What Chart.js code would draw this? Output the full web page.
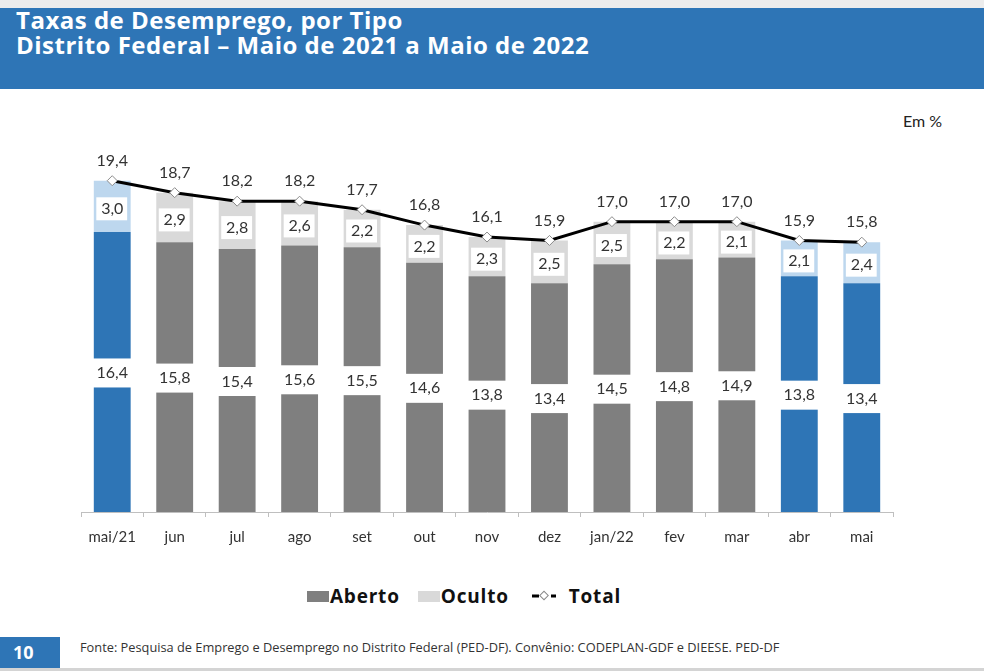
<!DOCTYPE html>
<html>
<head>
<meta charset="utf-8">
<script src="https://cdn.jsdelivr.net/npm/chart.js@4.4.0/dist/chart.umd.min.js"></script>
<style>
  html, body { margin: 0; padding: 0; background: #fff; }
  body { width: 984px; height: 671px; position: relative; overflow: hidden; font-family: Lato, "Open Sans", sans-serif; }
  #topstrip { position: absolute; left: 0; top: 0; width: 984px; height: 8px; background: #ececec; }
  #banner { position: absolute; left: 0; top: 8px; width: 984px; height: 81px; background: #2e75b6; }
  #banner div { position: absolute; left: 16px; color: #fff; font-family: "Open Sans", sans-serif; font-weight: bold; font-size: 24px; letter-spacing: 0.5px; line-height: 25px; white-space: nowrap; }
  #unit { position: absolute; left: 903px; top: 111px; font-size: 16px; color: #222; }
  #wrap { position: absolute; left: 0; top: 90px; width: 984px; height: 480px; }
  #legend { position: absolute; top: 583px; left: 0; width: 928px; display: flex; justify-content: center; align-items: center; font-family: "Open Sans", sans-serif; font-weight: bold; font-size: 19px; letter-spacing: 0.8px; color: #111; }
  #legend .sw { display: inline-block; width: 22px; height: 11px; margin-right: 1px; }
  #legend .item { display: flex; align-items: center; }
  #pagenum { position: absolute; left: 0; top: 637px; width: 47px; height: 31px; padding-left: 13px; background: #2e75b6; color: #fff; font-family: "Open Sans", sans-serif; font-weight: bold; font-size: 18px; line-height: 30px; }
  #source { position: absolute; left: 80px; top: 638px; font-family: "Open Sans", sans-serif; font-size: 12.8px; color: #333; white-space: nowrap; }
  #bottomstrip { position: absolute; left: 0; top: 668px; width: 984px; height: 3px; background: #d4d4d4; }
</style>
</head>
<body>
<div id="topstrip"></div>
<div id="banner">
  <div style="top:-1px">Taxas de Desemprego, por Tipo</div>
  <div style="top:24px">Distrito Federal – Maio de 2021 a Maio de 2022</div>
</div>
<div id="unit">Em %</div>
<div id="wrap"><canvas id="chart"></canvas></div>
<div id="legend">
  <span class="item" style="margin-right:18px"><span class="sw" style="background:#7f7f7f"></span>Aberto</span>
  <span class="item" style="margin-right:22px"><span class="sw" style="background:#d9d9d9"></span>Oculto</span>
  <span class="item"><svg width="26" height="14" style="margin-right:12px"><line x1="1" y1="7" x2="25" y2="7" stroke="#000" stroke-width="3" stroke-dasharray="7,12"/><rect x="10" y="3.5" width="6" height="6" fill="#fff" stroke="#888" stroke-width="1" transform="rotate(45 13 6.5)"/></svg>Total</span>
</div>
<div id="pagenum">10</div>
<div id="source">Fonte: Pesquisa de Emprego e Desemprego no Distrito Federal (PED-DF). Convênio: CODEPLAN-GDF e DIEESE. PED-DF</div>
<div id="bottomstrip"></div>

<script>
const months = ['mai/21', 'jun', 'jul', 'ago', 'set', 'out', 'nov', 'dez', 'jan/22', 'fev', 'mar', 'abr', 'mai'];
const aberto = [16.4, 15.8, 15.4, 15.6, 15.5, 14.6, 13.8, 13.4, 14.5, 14.8, 14.9, 13.8, 13.4];
const oculto = [3.0, 2.9, 2.8, 2.6, 2.2, 2.2, 2.3, 2.5, 2.5, 2.2, 2.1, 2.1, 2.4];
const total = [19.4, 18.7, 18.2, 18.2, 17.7, 16.8, 16.1, 15.9, 17.0, 17.0, 17.0, 15.9, 15.8];
// months shown in blue
const highlight = ['mai/21', 'abr', 'mai'];

const fmt = v => v.toFixed(1).replace('.', ',');
const isHi = i => highlight.includes(months[i]);

const valueLabels = {
    id: 'valueLabels',
    afterDatasetsDraw(chart) {
        const ctx = chart.ctx;
        const ab = chart.getDatasetMeta(0);
        const oc = chart.getDatasetMeta(1);
        const tot = chart.getDatasetMeta(2);
        ctx.save();
        ctx.font = '16px Lato';
        ctx.textAlign = 'center';
        ctx.textBaseline = 'middle';

        ab.data.forEach((bar, i) => {
            const cy = (bar.y + bar.base) / 2 + 1;
            ctx.fillStyle = '#fff';
            ctx.fillRect(bar.x - bar.width / 2 - 1, cy - 14.5, bar.width + 2, 29);
            ctx.fillStyle = '#333';
            ctx.fillText(fmt(aberto[i]), bar.x, cy);
        });

        oc.data.forEach((bar, i) => {
            const cy = (bar.y + bar.base) / 2 + 2.5;
            ctx.fillStyle = '#fff';
            ctx.fillRect(bar.x - bar.width / 2 + 2.5, cy - 11.5, bar.width - 6, 23);
            ctx.fillStyle = '#333';
            ctx.fillText(fmt(oculto[i]), bar.x, cy);
        });

        tot.data.forEach((pt, i) => {
            ctx.fillStyle = '#333';
            ctx.fillText(fmt(total[i]), pt.x, pt.y - 20);
        });
        ctx.restore();
    }
};

new Chart(document.getElementById('chart'), {
    data: {
        labels: months,
        datasets: [
            {
                type: 'bar',
                label: 'Aberto',
                data: aberto,
                stack: 'bars',
                order: 1,
                backgroundColor: months.map((m, i) => isHi(i) ? '#2e75b6' : '#7f7f7f'),
                categoryPercentage: 1,
                barPercentage: 0.59
            },
            {
                type: 'bar',
                label: 'Oculto',
                data: oculto,
                stack: 'bars',
                order: 1,
                backgroundColor: months.map((m, i) => isHi(i) ? '#bdd7ee' : '#d9d9d9'),
                categoryPercentage: 1,
                barPercentage: 0.59
            },
            {
                type: 'line',
                label: 'Total',
                data: total,
                stack: 'total',
                order: 0,
                borderColor: '#000',
                borderWidth: 3,
                tension: 0,
                pointStyle: 'rectRot',
                pointRadius: 5,
                pointBackgroundColor: '#fff',
                pointBorderColor: '#8a8a8a',
                pointBorderWidth: 1
            }
        ]
    },
    options: {
        responsive: true,
        maintainAspectRatio: false,
        animation: false,
        layout: {
            padding: {left: 81, right: 91, top: 48, bottom: 13}
        },
        plugins: {
            legend: {display: false},
            tooltip: {enabled: false}
        },
        scales: {
            x: {
                stacked: true,
                offset: true,
                grid: {
                    offset: true,
                    drawOnChartArea: false,
                    drawTicks: true,
                    tickLength: 5,
                    color: '#bfbfbf'
                },
                border: {display: true, color: '#bfbfbf', width: 1},
                ticks: {
                    color: '#333',
                    font: {family: 'Lato', size: 15},
                    padding: 11,
                    maxRotation: 0
                }
            },
            y: {
                display: false,
                stacked: true,
                min: 0,
                max: 21.9
            }
        }
    },
    plugins: [valueLabels]
});
</script>
</body>
</html>
